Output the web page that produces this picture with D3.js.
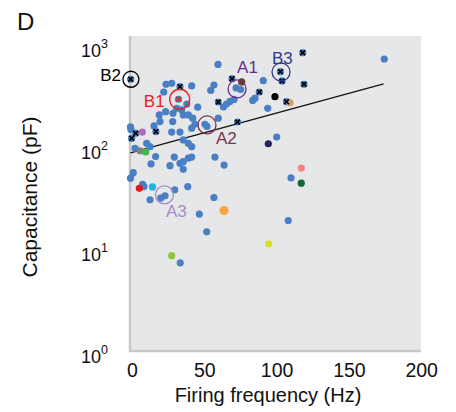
<!DOCTYPE html>
<html>
<head>
<meta charset="utf-8">
<title>Capacitance vs firing frequency</title>
<script src="https://d3js.org/d3.v7.min.js"></script>
<style>
  body { margin: 0; background: #fff; }
  text { font-family: Arial, "Liberation Sans", sans-serif; }
</style>
</head>
<body>
<div id="chart"></div>
<script>
const W = 456, H = 412;

// plain cells: [firing frequency (Hz), capacitance (pF)]
const cells = [
  [175.5, 835], [60.5, 738], [91.8, 511], [73.0, 434], [76.2, 419],
  [57.7, 464], [55.5, 410], [86.1, 344], [84.5, 327], [94.9, 274],
  [64.3, 282], [66.4, 302], [68.8, 320], [71.6, 335], [101.1, 143],
  [111.0, 57], [109.1, 21.7], [24.6, 472], [28.5, 482], [42.3, 454],
  [23.0, 396], [38.9, 302], [32.0, 274], [46.5, 281], [19.9, 236],
  [24.3, 254], [29.4, 245], [35.4, 264], [36.5, 236], [40.0, 236],
  [20.4, 203], [29.2, 203], [43.0, 219], [51.5, 191], [52.9, 182],
  [60.7, 219], [0, 180], [0.3, 170], [16.3, 184], [28.5, 160],
  [34.2, 160], [42.3, 175], [36.5, 134], [40.0, 124], [42.3, 115],
  [3.1, 111], [11.2, 124], [13.5, 115], [17.4, 92], [14.2, 78],
  [30.3, 91], [27.3, 75], [34.2, 79], [36.5, 82], [40.0, 89],
  [42.3, 91], [36.5, 69], [58.4, 91], [64.7, 76], [1.9, 64],
  [0, 56.5], [8.4, 49], [9.3, 46.7], [30.6, 43.4], [39.6, 46.7],
  [13.5, 34.6], [20.9, 36], [23.9, 37.9], [57.7, 36.5], [47.6, 25.1],
  [52.7, 16.8], [34.4, 8.35], [44.6, 191]
];

// cells marked with a cross
const crossed = [
  [0.1, 528], [34.2, 447], [119.1, 962], [103.7, 627], [104.8, 508],
  [120.0, 472], [70.2, 535], [89.1, 396], [107.9, 318], [60.7, 316],
  [74.0, 201], [0.8, 139], [3.6, 156], [17.6, 162]
];
const redCross = [[33.2, 336]];

// individually coloured cells
const marked = [
  [76.9, 497], [99.9, 356], [110.3, 311], [8.2, 160], [6.6, 105],
  [10.5, 102], [6.1, 44.9], [15.2, 46.4], [64.7, 27.2], [28.5, 9.8],
  [95.6, 12.8], [95.3, 123], [118.1, 71], [118.1, 50.5]
];
const markedColours = [
  "#6b3f1f", "#000000", "#d3a06c", "#b368bf", "#7f7f7f",
  "#3dbb4a", "#e8191f", "#1fb3e8", "#f7a540", "#8cc63e",
  "#d9dd27", "#26235e", "#f4827d", "#16683a"
];

// example cells
const exampleNames = ["B2", "B1", "A1", "A2", "A3", "B3"];
const exampleFreq = [0.3, 34, 73.7, 52.9, 23.5, 104.1];
const exampleCap = [528, 336, 424, 188, 38.7, 622];
const exampleColours = ["#000000", "#ec1c24", "#662d91", "#7a3353", "#a68bc6", "#2b3990"];
const exampleRadius = [8, 10, 9, 9, 9, 9];
const labelOffset = [[-10, 2, "end"], [-15, 8, "end"], [0, -16, "start"], [9, 19, "start"], [1.5, 22, "start"], [-9, -8, "start"]];

// regression line
const fitFreq = [0, 175];
const fitCap = [100, 475];

const xTicks = [0, 50, 100, 150, 200];
const yTicks = [0, 1, 2, 3];

const plot = {left: 129, top: 36, right: 421, bottom: 351};

const x = d3.scaleLinear().domain([0, 200]).range([130.5, 419.7]);
const y = d3.scaleLog().domain([1, 1000]).range([356.7, 51]);

const svg = d3.select("#chart").append("svg")
  .attr("width", W).attr("height", H);

svg.append("rect")
  .attr("x", plot.left).attr("y", plot.top)
  .attr("width", plot.right - plot.left).attr("height", plot.bottom - plot.top)
  .attr("fill", "#e6e7e9");

svg.append("path")
  .attr("d", `M${plot.left + 1},${plot.top}V${plot.bottom}H${plot.right}`)
  .attr("fill", "none").attr("stroke", "#c8c8c8").attr("stroke-width", 2.5);

// regression
svg.append("path")
  .datum(d3.zip(fitFreq, fitCap))
  .attr("d", d3.line().x(d => x(d[0])).y(d => y(d[1])))
  .attr("fill", "none").attr("stroke", "#111").attr("stroke-width", 1.3);

const blue = "#4a7fc3";
const r = 3.6;

svg.append("g").selectAll("circle")
  .data(cells.concat(crossed, redCross))
  .join("circle")
  .attr("cx", d => x(d[0])).attr("cy", d => y(d[1]))
  .attr("r", r).attr("fill", blue);

svg.append("g").selectAll("circle")
  .data(marked)
  .join("circle")
  .attr("cx", d => x(d[0])).attr("cy", d => y(d[1]))
  .attr("r", (d, i) => markedColours[i] === "#f7a540" ? 4.6 : r)
  .attr("fill", (d, i) => markedColours[i]);

const cross = (d) => {
  const cx = x(d[0]), cy = y(d[1]), s = 2.4;
  return `M${cx - s},${cy - s}L${cx + s},${cy + s}M${cx - s},${cy + s}L${cx + s},${cy - s}`;
};
svg.append("g").selectAll("path")
  .data(crossed)
  .join("path")
  .attr("d", cross)
  .attr("stroke", "#000").attr("stroke-width", 1.6);
svg.append("g").selectAll("path")
  .data(redCross)
  .join("path")
  .attr("d", cross)
  .attr("stroke", "#e8262a").attr("stroke-width", 1.6);

// example rings + names
exampleNames.forEach((name, i) => {
  const cx = x(exampleFreq[i]), cy = y(exampleCap[i]);
  svg.append("circle")
    .attr("cx", cx).attr("cy", cy).attr("r", exampleRadius[i])
    .attr("fill", "none").attr("stroke", exampleColours[i]).attr("stroke-width", 1.3);
  svg.append("text")
    .attr("x", cx + labelOffset[i][0]).attr("y", cy + labelOffset[i][1])
    .attr("text-anchor", labelOffset[i][2])
    .attr("font-size", 17).attr("fill", exampleColours[i])
    .text(name);
});

// y tick labels 10^n
yTicks.forEach(e => {
  const t = svg.append("text")
    .attr("x", 108).attr("y", y(Math.pow(10, e)) + 6)
    .attr("text-anchor", "end").attr("font-size", 18).attr("fill", "#111");
  t.append("tspan").text("10");
  t.append("tspan").attr("dy", -9).attr("font-size", 12.5).text(e);
});

// x tick labels
svg.append("g").selectAll("text")
  .data(xTicks)
  .join("text")
  .attr("x", d => x(d) + 2).attr("y", 377)
  .attr("text-anchor", "middle").attr("font-size", 19.5).attr("fill", "#111")
  .text(d => d);

svg.append("text")
  .attr("x", 268).attr("y", 402)
  .attr("text-anchor", "middle").attr("font-size", 20).attr("fill", "#111")
  .text("Firing frequency (Hz)");

svg.append("text")
  .attr("transform", "translate(37,197) rotate(-90)")
  .attr("text-anchor", "middle").attr("font-size", 21).attr("fill", "#111")
  .text("Capacitance (pF)");

svg.append("text")
  .attr("x", 17).attr("y", 30)
  .attr("font-size", 24).attr("fill", "#111")
  .text("D");
</script>
</body>
</html>
